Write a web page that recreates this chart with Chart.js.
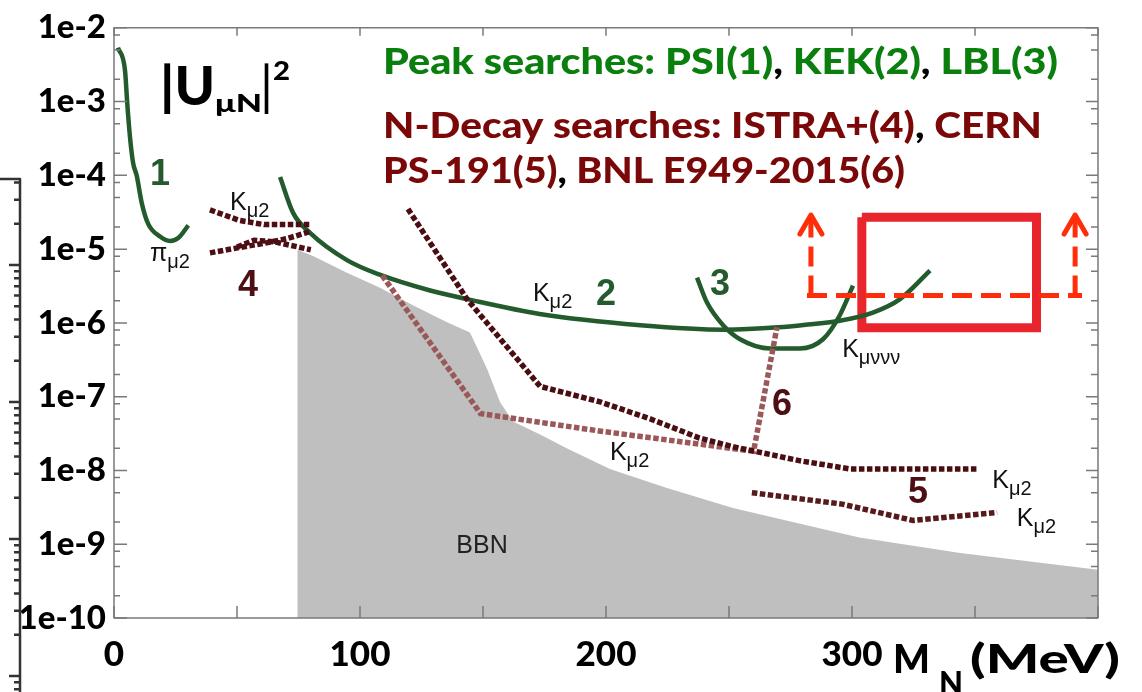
<!DOCTYPE html>
<html lang="en">
<head>
  <meta charset="utf-8">
  <title>Heavy neutral lepton limits |U_μN|²</title>
  <script src="https://cdn.jsdelivr.net/npm/chart.js@4.4.1/dist/chart.umd.min.js"></script>
  <style>
    * { margin: 0; padding: 0; }
    body { background: #fff; }
    #wrap { position: relative; width: 1142px; height: 692px; }
  </style>
</head>
<body>
  <div id="wrap"><canvas id="chart" width="1142" height="692"></canvas></div>
  <script>
    // --- values (mass in MeV, |U_muN|^2) ---
    // PSI peak search (1)
    const psiMass = [1.6, 4.5, 5.4, 6.5, 7.8, 9.2, 11.3, 13.9, 18.7, 22.8, 26.1, 30.2];
    const psiU2 = [5.4e-3, 2.6e-3, 9.3e-4, 3.3e-4, 1.45e-4, 1.0e-4, 4.2e-5, 2.2e-5, 1.48e-5, 1.29e-5, 1.41e-5, 2.1e-5];
    // KEK peak search (2)
    const kekMass = [67.5, 72.8, 79.7, 94.7, 108, 128.5, 143.5, 173, 214, 248, 270, 282, 295, 308.5, 319.5, 331.7];
    const kekU2 = [9.5e-5, 3.1e-5, 1.66e-5, 7.1e-6, 4.5e-6, 2.75e-6, 2.1e-6, 1.32e-6, 9.3e-7, 8.1e-7, 8.7e-7, 9.5e-7, 1.07e-6, 1.38e-6, 2.1e-6, 5.1e-6];
    // LBL peak search (3)
    const lblMass = [237, 241, 247.6, 254.5, 266.7, 278.9, 288.2, 295, 300.4];
    const lblU2 = [4.1e-6, 1.9e-6, 9.3e-7, 6.0e-7, 4.5e-7, 4.5e-7, 6.0e-7, 1.26e-6, 3.2e-6];
    // ISTRA+ (4)
    const istraUpperMass = [39, 51, 61, 80];
    const istraUpperU2 = [3.4e-5, 2.45e-5, 2.15e-5, 2.15e-5];
    const istraLowerMass = [39, 51, 61, 70, 80];
    const istraLowerU2 = [8.9e-6, 1.05e-5, 1.2e-5, 1.38e-5, 1.74e-5];
    const istraCrossMass = [50, 57, 65, 80];
    const istraCrossU2 = [1.07e-5, 1.32e-5, 1.26e-5, 9.8e-6];
    // CERN PS-191 (5)
    const ps191UpperMass = [119.5, 143.5, 173.2, 197.6, 218, 238, 251.6, 279, 299, 351];
    const ps191UpperU2 = [3.5e-5, 2.1e-6, 1.38e-7, 8.5e-8, 5.0e-8, 2.75e-8, 2.1e-8, 1.35e-8, 1.05e-8, 1.05e-8];
    const ps191LowerMass = [259.3, 296, 324.8, 359];
    const ps191LowerU2 = [5.0e-9, 3.5e-9, 2.1e-9, 2.7e-9];
    // BNL E949-2015 (6)
    const e949Mass = [109, 149, 198, 260, 269.5];
    const e949U2 = [4.4e-6, 5.9e-8, 3.4e-8, 1.82e-8, 8.7e-7];
    // BBN excluded region (lower edge)
    const bbnMass = [74.5, 74.5, 80.9, 94.7, 108.1, 121.5, 135.4, 144.7, 146, 151.6, 156.9, 162.2, 173, 184, 201.6, 224.8, 251.6, 278.9, 303, 344, 400];
    const bbnU2 = [1e-10, 9.8e-6, 8.1e-6, 4.8e-6, 3.0e-6, 1.74e-6, 1.02e-6, 7.4e-7, 6.0e-7, 2.4e-7, 8.5e-8, 4.6e-8, 3.1e-8, 2.0e-8, 1.05e-8, 5.8e-9, 3.1e-9, 1.9e-9, 1.23e-9, 7.6e-10, 4.5e-10];
    // target box and reach arrows
    const boxMass = [304, 375];
    const boxU2 = [2.7e-5, 8.6e-7];
    const reachMass = [281.7, 393.5];
    const reachU2 = 2.35e-6;
    const arrowMass = [283.3, 390.7];
    const arrowTipU2 = 2.9e-5;

    // axes
    const massTicks = [0, 50, 100, 150, 200, 250, 300, 350, 400];
    const massLabels = [0, 100, 200, 300];
    const u2Ticks = [1e-10, 1e-9, 1e-8, 1e-7, 1e-6, 1e-5, 1e-4, 1e-3, 1e-2];
    const minorSteps = [2, 5, 8];

    const GREEN = '#235b2d';
    const DARK = '#4d0f14';
    const E949 = '#9a5858';
    const RED = '#e8252d';
    const ORANGE = '#ff2d0a';
    const TXT_GREEN = '#0a7f0e';
    const TXT_RED = '#7a0808';
    const HEAD_FONT = 'Lato, "Open Sans", sans-serif';

    const pts = (xs, ys) => xs.map((m, i) => ({ x: m, y: ys[i] }));

    function solid(xs, ys) {
      return { data: pts(xs, ys), borderColor: GREEN, borderWidth: 4.5, pointRadius: 0,
        cubicInterpolationMode: 'monotone', fill: false, order: 5 };
    }
    function dotted(xs, ys, color) {
      return { data: pts(xs, ys), borderColor: color, borderWidth: 5.5, borderDash: [5.5, 2.5],
        pointRadius: 0, tension: 0, fill: false, order: 3 };
    }
    function dashed(data) {
      return { data: data, borderColor: ORANGE, borderWidth: 5, borderDash: [20, 9],
        pointRadius: 0, tension: 0, fill: false, order: 1 };
    }

    const boxData = [
      { x: boxMass[0], y: boxU2[0] }, { x: boxMass[1], y: boxU2[0] },
      { x: boxMass[1], y: boxU2[1] }, { x: boxMass[0], y: boxU2[1] },
      { x: boxMass[0], y: boxU2[0] }
    ];

    // text labels inside the plot, placed in data coordinates
    const numberNotes = [
      ['1', 18.7, 1.0e-4, GREEN], ['2', 200, 2.35e-6, GREEN], ['3', 246.3, 3.3e-6, GREEN],
      ['4', 54.5, 3.2e-6, DARK], ['5', 326.8, 5.0e-9, DARK], ['6', 271.5, 7.8e-8, DARK]
    ];
    const procNotes = [
      ['K', 'μ2', 47.2, 3.4e-5], ['π', 'μ2', 14.6, 6.9e-6], ['K', 'μ2', 170.3, 2.0e-6],
      ['K', 'μ2', 201.6, 1.38e-8], ['K', 'μ2', 357, 5.7e-9], ['K', 'μ2', 367, 1.78e-9],
      ['K', 'μννν', 296, 3.5e-7]
    ];

    function fitText(ctx, parts, x0, x1, base, size, family) {
      ctx.font = '900 ' + size + 'px ' + family;
      let w = 0;
      parts.forEach(p => { w += ctx.measureText(p[0]).width; });
      const sx = (x1 - x0) / w;
      ctx.save();
      ctx.translate(x0, base);
      ctx.scale(sx, 1);
      ctx.textAlign = 'left';
      ctx.textBaseline = 'alphabetic';
      let cx = 0;
      parts.forEach(p => {
        ctx.fillStyle = p[1];
        ctx.fillText(p[0], cx, 0);
        cx += ctx.measureText(p[0]).width;
      });
      ctx.restore();
    }

    const decorations = {
      id: 'decorations',
      afterDatasetsDraw(chart) {
        const { ctx, chartArea: a, scales: { x, y } } = chart;
        ctx.save();

        // arrow heads
        ctx.strokeStyle = ORANGE;
        ctx.lineWidth = 5;
        ctx.lineCap = 'round';
        ctx.lineJoin = 'round';
        arrowMass.forEach(m => {
          const px = x.getPixelForValue(m), py = y.getPixelForValue(arrowTipU2);
          ctx.beginPath();
          ctx.moveTo(px - 11, py + 19);
          ctx.lineTo(px, py);
          ctx.lineTo(px + 11, py + 19);
          ctx.stroke();
        });

        // frame and inward ticks
        ctx.strokeStyle = '#7a7a7a';
        ctx.lineWidth = 1.5;
        ctx.lineCap = 'butt';
        ctx.strokeRect(a.left, a.top, a.right - a.left, a.bottom - a.top);
        ctx.beginPath();
        massTicks.forEach(m => {
          const px = x.getPixelForValue(m);
          ctx.moveTo(px, a.top); ctx.lineTo(px, a.top + 8);
          ctx.moveTo(px, a.bottom); ctx.lineTo(px, a.bottom - 12);
        });
        u2Ticks.forEach(v => {
          const py = y.getPixelForValue(v);
          ctx.moveTo(a.left, py); ctx.lineTo(a.left + 13, py);
          ctx.moveTo(a.right, py); ctx.lineTo(a.right - 12, py);
          if (v < 1e-2) {
            minorSteps.forEach(k => {
              const q = y.getPixelForValue(k * v);
              ctx.moveTo(a.left, q); ctx.lineTo(a.left + 6, q);
              ctx.moveTo(a.right, q); ctx.lineTo(a.right - 7, q);
            });
          }
        });
        ctx.stroke();

        // curve numbers
        ctx.textAlign = 'center';
        ctx.textBaseline = 'middle';
        ctx.font = 'bold 36px "Liberation Sans", Arial, sans-serif';
        numberNotes.forEach(n => {
          ctx.fillStyle = n[3];
          ctx.fillText(n[0], x.getPixelForValue(n[1]), y.getPixelForValue(n[2]));
        });

        // process labels K_mu2 etc.
        ctx.textAlign = 'left';
        ctx.textBaseline = 'alphabetic';
        ctx.fillStyle = '#111';
        procNotes.forEach(n => {
          const px = x.getPixelForValue(n[2]), py = y.getPixelForValue(n[3]);
          ctx.font = '25px "Liberation Sans", Arial, sans-serif';
          ctx.fillText(n[0], px, py);
          const w = ctx.measureText(n[0]).width;
          ctx.font = '20px "Liberation Sans", Arial, sans-serif';
          ctx.fillText(n[1], px + w, py + 7);
        });
        ctx.textAlign = 'center';
        ctx.textBaseline = 'middle';
        ctx.font = '25px "Liberation Sans", Arial, sans-serif';
        ctx.fillStyle = '#222';
        ctx.fillText('BBN', x.getPixelForValue(149.6), y.getPixelForValue(9.5e-10));

        // headline texts
        fitText(ctx, [['Peak searches: PSI(1)', TXT_GREEN], [',', '#000'], [' KEK(2)', TXT_GREEN], [',', '#000'], [' LBL(3)', TXT_GREEN]], 383, 1058, 74, 36, HEAD_FONT);
        fitText(ctx, [['N-Decay searches: ISTRA+(4)', TXT_RED], [',', '#000'], [' CERN', TXT_RED]], 383, 1042, 138, 36, HEAD_FONT);
        fitText(ctx, [['PS-191(5)', TXT_RED], [',', '#000'], [' BNL E949-2015(6)', TXT_RED]], 383, 905, 183, 36, HEAD_FONT);

        // |U_muN|^2
        fitText(ctx, [['|U', '#000']], 160, 215, 105, 54, HEAD_FONT);
        fitText(ctx, [['μN', '#000']], 215, 262, 112, 24, HEAD_FONT);
        fitText(ctx, [['|', '#000']], 262, 271, 105, 54, HEAD_FONT);
        fitText(ctx, [['2', '#000']], 273, 290, 80, 27, HEAD_FONT);

        // axis title M_N (MeV)
        fitText(ctx, [['M', '#000']], 893, 930, 673, 40, HEAD_FONT);
        fitText(ctx, [['N', '#000']], 939, 963, 695, 32, HEAD_FONT);
        fitText(ctx, [['(MeV)', '#000']], 970, 1120, 673, 40, HEAD_FONT);

        // cropped frame of a neighbouring figure on the far left
        ctx.strokeStyle = '#333';
        ctx.lineWidth = 2.5;
        ctx.beginPath();
        ctx.moveTo(0, 179); ctx.lineTo(20, 179); ctx.lineTo(20, 692);
        [128, 265, 402, 539, 676].forEach(d => {
          if (d > 179) { ctx.moveTo(20, d); ctx.lineTo(9, d); }
          for (let k = 2; k <= 9; k++) {
            const q = d + 137 * (1 - Math.log10(k));
            if (q > 182 && q < 692) { ctx.moveTo(20, q); ctx.lineTo(14, q); }
          }
        });
        ctx.stroke();

        ctx.restore();
      }
    };

    new Chart(document.getElementById('chart'), {
      type: 'line',
      data: {
        datasets: [
          { data: pts(bbnMass, bbnU2), borderWidth: 0, borderColor: 'rgba(0,0,0,0)', backgroundColor: '#bfbfbf',
            pointRadius: 0, tension: 0, fill: 'start', order: 10 },
          { data: boxData, borderColor: RED, borderWidth: 9, borderJoinStyle: 'miter', pointRadius: 0,
            tension: 0, fill: false, order: 6 },
          solid(psiMass, psiU2),
          solid(kekMass, kekU2),
          solid(lblMass, lblU2),
          dotted(istraUpperMass, istraUpperU2, DARK),
          dotted(istraLowerMass, istraLowerU2, DARK),
          dotted(istraCrossMass, istraCrossU2, DARK),
          dotted(ps191UpperMass, ps191UpperU2, '#4a0d12'),
          dotted(ps191LowerMass, ps191LowerU2, '#561a1c'),
          dotted(e949Mass, e949U2, E949),
          dashed(reachMass.map(m => ({ x: m, y: reachU2 }))),
          dashed([{ x: arrowMass[0], y: reachU2 }, { x: arrowMass[0], y: arrowTipU2 }]),
          dashed([{ x: arrowMass[1], y: reachU2 }, { x: arrowMass[1], y: arrowTipU2 }])
        ]
      },
      options: {
        responsive: false,
        animation: false,
        events: [],
        layout: { padding: { left: 0, right: 44, top: 23, bottom: 0 } },
        plugins: { legend: { display: false }, tooltip: { enabled: false } },
        scales: {
          x: {
            type: 'linear', min: 0, max: 400,
            grid: { display: false, drawTicks: false },
            border: { display: false },
            afterBuildTicks: s => { s.ticks = massLabels.map(v => ({ value: v })); },
            afterFit: s => { s.height = 74; },
            ticks: { autoSkip: false, maxRotation: 0, padding: 16, color: '#000',
              font: { family: HEAD_FONT, size: 35, weight: '900' } }
          },
          y: {
            type: 'logarithmic', min: 1e-10, max: 1e-2,
            grid: { display: false, drawTicks: false },
            border: { display: false },
            afterBuildTicks: s => { s.ticks = u2Ticks.map(v => ({ value: v })); },
            afterFit: s => { s.width = 114; },
            ticks: { autoSkip: false, padding: 8, color: '#000',
              callback: v => '1e' + Math.round(Math.log10(v)),
              font: { family: HEAD_FONT, size: 33, weight: '900' } }
          }
        }
      },
      plugins: [decorations]
    });
  </script>
</body>
</html>
